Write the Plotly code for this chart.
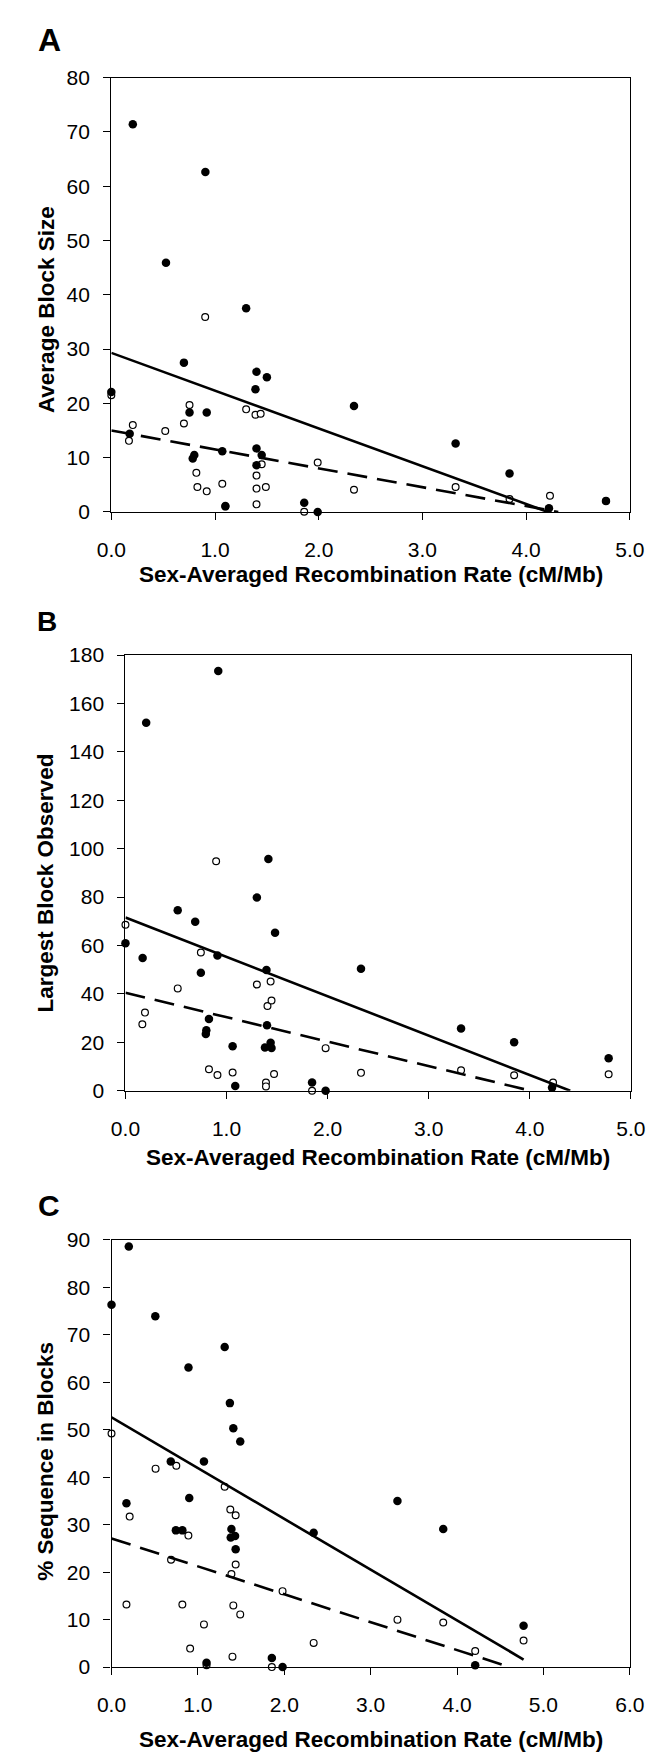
import plotly.graph_objects as go

W, H = 665, 1754

# ---------------- data ----------------
# Panel A: Average Block Size
a_filled_x = [0.0, 0.177, 0.207, 0.527, 0.70, 0.754, 0.785, 0.80, 0.907, 0.92, 1.07, 1.10, 1.30,
              1.39, 1.40, 1.40, 1.40, 1.45, 1.50, 1.86, 1.99, 2.34, 3.32, 3.84, 4.22, 4.77]
a_filled_y = [22.1, 14.4, 71.4, 45.9, 27.5, 18.3, 9.85, 10.5, 62.6, 18.3, 11.2, 1.1, 37.5,
              22.6, 25.8, 11.7, 8.6, 10.5, 24.8, 1.7, 0.0, 19.5, 12.6, 7.1, 0.7, 2.0]
a_open_x = [0.0, 0.17, 0.207, 0.52, 0.70, 0.754, 0.82, 0.83, 0.905, 0.92, 1.07, 1.10, 1.30,
            1.39, 1.40, 1.40, 1.40, 1.44, 1.45, 1.49, 1.86, 1.99, 2.34, 3.32, 3.84, 4.23, 4.77]
a_open_y = [21.5, 13.1, 16.0, 14.9, 16.3, 19.7, 7.2, 4.6, 35.9, 3.8, 5.2, 1.0, 18.9,
            17.9, 6.7, 4.3, 1.4, 18.1, 8.8, 4.6, 0.05, 9.1, 4.1, 4.6, 2.4, 3.0, 2.0]
a_trend_solid_x = [0.0, 4.21]
a_trend_solid_y = [29.3, 0.0]
a_trend_dash_x = [0.0, 4.31]
a_trend_dash_y = [15.0, 0.0]

# Panel B: Largest Block Observed
b_filled_x = [0.0, 0.17, 0.205, 0.517, 0.69, 0.746, 0.795, 0.80, 0.826, 0.91, 0.918, 1.06, 1.086,
              1.30, 1.38, 1.395, 1.40, 1.414, 1.436, 1.445, 1.48, 1.846, 1.98, 2.33, 3.32,
              3.845, 4.22, 4.78]
b_filled_y = [60.9, 54.9, 152.0, 74.6, 69.8, 48.8, 23.5, 25.0, 29.7, 55.9, 173.4, 18.4, 2.0,
              79.8, 17.9, 49.9, 27.1, 95.8, 19.8, 17.7, 65.3, 3.4, 0.0, 50.4, 25.7,
              20.0, 1.3, 13.4]
b_open_x = [0.0, 0.167, 0.193, 0.517, 0.746, 0.826, 0.897, 0.91, 1.06, 1.30, 1.39, 1.39, 1.405,
            1.436, 1.445, 1.47, 1.846, 1.98, 2.33, 3.32, 3.845, 4.23, 4.78]
b_open_y = [68.6, 27.5, 32.3, 42.3, 57.1, 8.9, 94.8, 6.5, 7.5, 43.9, 3.4, 1.8, 35.0,
            45.1, 37.3, 6.9, 0.0, 17.6, 7.4, 8.5, 6.4, 3.4, 6.8]
b_trend_solid_x = [0.0, 4.40]
b_trend_solid_y = [71.6, 0.0]
b_trend_dash_x = [0.0, 4.01]
b_trend_dash_y = [40.5, 0.0]

# Panel C: % Sequence in Blocks
c_filled_x = [0.0, 0.173, 0.200, 0.507, 0.686, 0.745, 0.82, 0.891, 0.90, 1.07, 1.10, 1.31, 1.37,
              1.38, 1.388, 1.41, 1.43, 1.437, 1.49, 1.856, 1.98, 2.34, 3.31, 3.84, 4.21, 4.77]
c_filled_y = [76.3, 34.5, 88.6, 73.9, 43.3, 28.8, 28.8, 63.1, 35.6, 43.3, 0.9, 67.4, 55.6,
              27.3, 29.1, 50.3, 27.6, 24.8, 47.5, 1.9, 0.0, 28.3, 35.0, 29.1, 0.4, 8.7]
c_open_x = [0.0, 0.173, 0.21, 0.51, 0.689, 0.75, 0.82, 0.89, 0.91, 1.07, 1.10, 1.31, 1.375,
            1.388, 1.40, 1.41, 1.437, 1.437, 1.49, 1.856, 1.98, 2.34, 3.31, 3.84, 4.21, 4.77]
c_open_y = [49.2, 13.2, 31.7, 41.8, 22.6, 42.4, 13.2, 27.7, 3.9, 9.0, 0.4, 38.0, 33.2,
            19.6, 2.2, 13.0, 32.0, 21.6, 11.1, 0.0, 16.0, 5.1, 10.0, 9.4, 3.4, 5.6]
c_trend_solid_x = [0.0, 4.77]
c_trend_solid_y = [52.6, 1.6]
c_trend_dash_x = [0.0, 4.61]
c_trend_dash_y = [27.1, 0.0]

panel_letters = ["A", "B", "C"]
y_titles = ["Average Block Size", "Largest Block Observed", "% Sequence in Blocks"]
x_title = "Sex-Averaged Recombination Rate (cM/Mb)"
x_ranges = [[0, 5], [0, 5], [0, 6]]
y_ranges = [[0, 80], [0, 180], [0, 90]]
y_dticks = [10, 20, 10]

# ---------------- layout geometry (pixels) ----------------
plot_px = [  # left, right, top, bottom
    (92.5, 635.5, 58.3, 498.5),
    (107.3, 636.6, 643.5, 1085.0),
    (92.7, 635.5, 1236.0, 1669.0),
]
xtitle_y_px = [562, 1153, 1742]
ytitle_y_px = [293, 874, 1460]
ytitle_x_px = 24
letter_px = [(14, 20, 32), (13, 609, 28), (14, 1201, 30)]

FONT = "Liberation Sans, Arial, sans-serif"

panels = [
    (a_filled_x, a_filled_y, a_open_x, a_open_y, a_trend_solid_x, a_trend_solid_y, a_trend_dash_x, a_trend_dash_y),
    (b_filled_x, b_filled_y, b_open_x, b_open_y, b_trend_solid_x, b_trend_solid_y, b_trend_dash_x, b_trend_dash_y),
    (c_filled_x, c_filled_y, c_open_x, c_open_y, c_trend_solid_x, c_trend_solid_y, c_trend_dash_x, c_trend_dash_y),
]

fig = go.Figure()
layout = dict(
    width=W, height=H, margin=dict(l=0, r=0, t=0, b=0),
    paper_bgcolor="white", plot_bgcolor="white", showlegend=False,
    font=dict(family=FONT, color="black"),
)
annotations = []

for i, (fx, fy, ox, oy, sx, sy, dx, dy) in enumerate(panels):
    n = "" if i == 0 else str(i + 1)
    xa, ya = "x" + n, "y" + n
    l, r, t, b = plot_px[i]
    # open circles
    fig.add_trace(go.Scatter(x=ox, y=oy, mode="markers", xaxis=xa, yaxis=ya, cliponaxis=False,
                             marker=dict(symbol="circle", size=6.8, color="white",
                                         line=dict(color="black", width=1.2))))
    # filled circles
    fig.add_trace(go.Scatter(x=fx, y=fy, mode="markers", xaxis=xa, yaxis=ya, cliponaxis=False,
                             marker=dict(symbol="circle", size=8.5, color="black",
                                         line=dict(width=0))))
    # trend lines
    fig.add_trace(go.Scatter(x=sx, y=sy, mode="lines", xaxis=xa, yaxis=ya,
                             line=dict(color="black", width=2.6)))
    fig.add_trace(go.Scatter(x=dx, y=dy, mode="lines", xaxis=xa, yaxis=ya,
                             line=dict(color="black", width=2.6, dash="20px,10px")))

    common = dict(showline=True, linecolor="black", linewidth=1.3, mirror=True,
                  showgrid=False, zeroline=False, ticks="outside", ticklen=7,
                  tickwidth=1, tickcolor="black",
                  tickfont=dict(family=FONT, size=21, color="black"))
    layout["xaxis" + n] = dict(common, domain=[l / W, r / W], range=x_ranges[i],
                               dtick=1, tick0=0, tickformat=".1f", anchor=ya,
                               ticklabelstandoff=12)
    layout["yaxis" + n] = dict(common, domain=[1 - b / H, 1 - t / H], range=y_ranges[i],
                               dtick=y_dticks[i], tick0=0, anchor=xa,
                               ticklabelstandoff=9)

    annotations.append(dict(text="<b>%s</b>" % x_title, xref="paper", yref="paper",
                            x=((l + r) / 2) / W, y=1 - xtitle_y_px[i] / H,
                            xanchor="center", yanchor="middle", showarrow=False,
                            font=dict(family=FONT, size=22.5, color="black")))
    annotations.append(dict(text="<b>%s</b>" % y_titles[i], xref="paper", yref="paper",
                            x=ytitle_x_px / W, y=1 - ytitle_y_px[i] / H, textangle=-90,
                            xanchor="center", yanchor="middle", showarrow=False,
                            font=dict(family=FONT, size=22.5, color="black")))
    lx, ly, ls = letter_px[i]
    annotations.append(dict(text="<b>%s</b>" % panel_letters[i], xref="paper", yref="paper",
                            x=lx / W, y=1 - ly / H, xanchor="left", yanchor="middle",
                            showarrow=False, font=dict(family=FONT, size=ls, color="black")))

layout["annotations"] = annotations
fig.update_layout(**layout)
fig.write_html("out.html")
